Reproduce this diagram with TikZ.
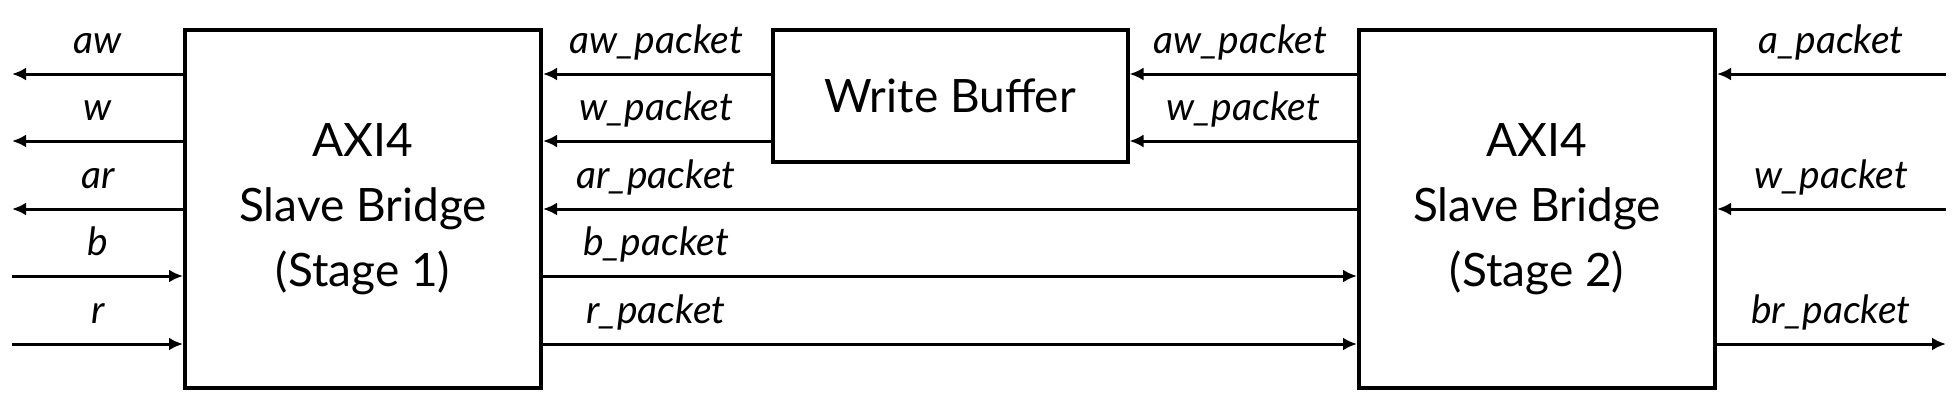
\documentclass[tikz,border=0pt]{standalone}
\usepackage{fontspec}
\setmainfont{Lato}
\usetikzlibrary{arrows.meta}
\begin{document}
\begin{tikzpicture}[x=1pt,y=-1pt,
  blk/.style={draw,line width=4pt,align=center,font=\fontsize{46}{65}\selectfont,inner sep=0pt},
  sig/.style={line width=3pt,-{Latex[length=14pt,width=13pt]}},
  lbl/.style={anchor=base,font=\fontsize{39}{44}\selectfont\itshape,inner sep=0pt}]
\useasboundingbox (0,0) rectangle (1960,416);
% blocks
\node[blk,minimum width=356pt,minimum height=358pt] (s1) at (363,209) {AXI4\\Slave Bridge\\(Stage 1)};
\node[blk,minimum width=355pt,minimum height=132pt] (wb) at (950,96) {Write Buffer};
\node[blk,minimum width=356pt,minimum height=358pt] (s2) at (1537,209) {AXI4\\Slave Bridge\\(Stage 2)};
% rows and free ends
\coordinate (y1) at (0,74);
\coordinate (y2) at (0,141);
\coordinate (y3) at (0,209);
\coordinate (y4) at (0,276);
\coordinate (y5) at (0,344);
\coordinate (Lx) at (12,0);
\coordinate (Rx) at (1946,0);
% left side
\draw[sig] (s1.west |- y1) -- (Lx |- y1);
\draw[sig] (s1.west |- y2) -- (Lx |- y2);
\draw[sig] (s1.west |- y3) -- (Lx |- y3);
\draw[sig] (Lx |- y4) -- (s1.west |- y4);
\draw[sig] (Lx |- y5) -- (s1.west |- y5);
% middle
\draw[sig] (wb.west |- y1) -- (s1.east |- y1);
\draw[sig] (wb.west |- y2) -- (s1.east |- y2);
\draw[sig] (s2.west |- y1) -- (wb.east |- y1);
\draw[sig] (s2.west |- y2) -- (wb.east |- y2);
\draw[sig] (s2.west |- y3) -- (s1.east |- y3);
\draw[sig] (s1.east |- y4) -- (s2.west |- y4);
\draw[sig] (s1.east |- y5) -- (s2.west |- y5);
% right side
\draw[sig] (Rx |- y1) -- (s2.east |- y1);
\draw[sig] (Rx |- y3) -- (s2.east |- y3);
\draw[sig] (s2.east |- y5) -- (Rx |- y5);
% labels
\node[lbl] (law) at (98,53) {aw};
\node[lbl] (lw) at (98,120) {w};
\node[lbl] (lar) at (98,188) {ar};
\node[lbl] (lb) at (98,255) {b};
\node[lbl] (lr) at (98,323) {r};
\node[lbl] (maw) at (656,53) {aw\_packet};
\node[lbl] (mw) at (656,120) {w\_packet};
\node[lbl] (mar) at (656,188) {ar\_packet};
\node[lbl] (mb) at (656,255) {b\_packet};
\node[lbl] (mr) at (656,323) {r\_packet};
\node[lbl] (naw) at (1240,53) {aw\_packet};
\node[lbl] (nw) at (1243,120) {w\_packet};
\node[lbl] (ra) at (1831,53) {a\_packet};
\node[lbl] (rw) at (1831,188) {w\_packet};
\node[lbl] (rbr) at (1831,323) {br\_packet};
\end{tikzpicture}
\end{document}
